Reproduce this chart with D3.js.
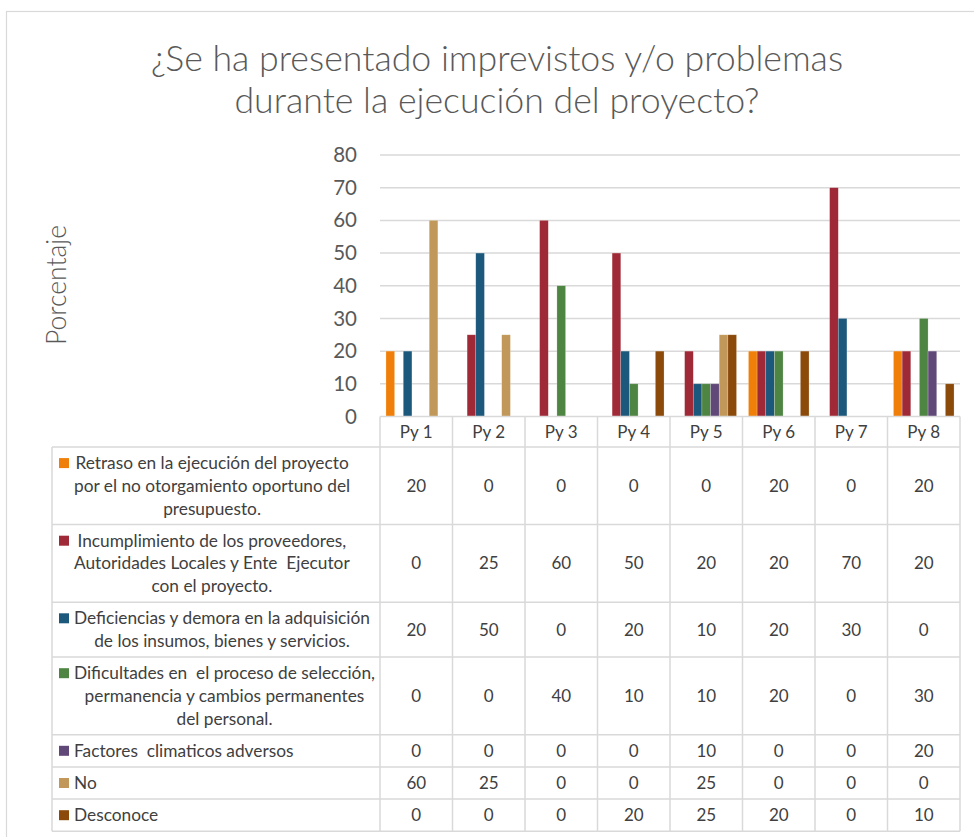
<!DOCTYPE html>
<html>
<head>
<meta charset="utf-8">
<title>Imprevistos y problemas</title>
<style>
body { margin: 0; background: #fff; }
text { font-family: Lato, "Open Sans", sans-serif; fill: #404040; }
.title { font-size: 35.7px; font-weight: 300; fill: #595959; }
.ylabel { font-size: 26.5px; font-weight: 300; fill: #595959; }
.yaxis text { font-size: 20.5px; fill: #595959; }
.grid line { stroke: #d9d9d9; stroke-width: 1.5; }
.tbl line { stroke: #d9d9d9; stroke-width: 1.5; }
.cell { font-size: 17px; }
.leg { font-size: 17.3px; white-space: pre; }
</style>
</head>
<body>
<div id="chart"></div>
<script src="https://cdn.jsdelivr.net/npm/d3@7"></script>
<script>
    var categories = ["Py 1", "Py 2", "Py 3", "Py 4", "Py 5", "Py 6", "Py 7", "Py 8"];
    var seriesNames = [
        ["Retraso en la ejecución del proyecto", "por el no otorgamiento oportuno del", "presupuesto."],
        ["Incumplimiento de los proveedores,", "Autoridades Locales y Ente  Ejecutor", "con el proyecto."],
        ["Deficiencias y demora en la adquisición", "de los insumos, bienes y servicios."],
        ["Dificultades en  el proceso de selección,", "permanencia y cambios permanentes", "del personal."],
        ["Factores  climaticos adversos"],
        ["No"],
        ["Desconoce"]
    ];
    var retraso        = [20, 0, 0, 0, 0, 20, 0, 20];
    var incumplimiento = [0, 25, 60, 50, 20, 20, 70, 20];
    var deficiencias   = [20, 50, 0, 20, 10, 20, 30, 0];
    var dificultades   = [0, 0, 40, 10, 10, 20, 0, 30];
    var factores       = [0, 0, 0, 0, 10, 0, 0, 20];
    var no             = [60, 25, 0, 0, 25, 0, 0, 0];
    var desconoce      = [0, 0, 0, 20, 25, 20, 0, 10];
    var colors = ["#f07f09", "#9f2936", "#1b587c", "#4e8542", "#604878", "#c19859", "#8b4a0a"];
    var yTicks = [0, 10, 20, 30, 40, 50, 60, 70, 80];

    var values = [retraso, incumplimiento, deficiencias, dificultades, factores, no, desconoce];

    var W = 974, H = 837;
    var plot = { left: 380, right: 960, top: 155, bottom: 416.5 };
    var tableLeft = 52, headerH = 30.5;

    var svg = d3.select("#chart").append("svg")
        .attr("width", W)
        .attr("height", H);

    // chart border
    svg.append("rect")
        .attr("x", 6.5).attr("y", 11.5)
        .attr("width", 1000).attr("height", 900)
        .attr("fill", "none")
        .attr("stroke", "#d9d9d9")
        .attr("stroke-width", 1.2);

    svg.append("text").attr("class", "title")
        .attr("x", 497).attr("y", 71)
        .attr("text-anchor", "middle")
        .text("¿Se ha presentado imprevistos y/o problemas");
    svg.append("text").attr("class", "title")
        .attr("x", 497).attr("y", 113)
        .attr("text-anchor", "middle")
        .text("durante la ejecución del proyecto?");

    svg.append("text").attr("class", "ylabel")
        .attr("transform", "translate(66,285) rotate(-90)")
        .attr("text-anchor", "middle")
        .text("Porcentaje");

    var x0 = d3.scaleBand()
        .domain(categories)
        .range([plot.left, plot.right])
        .padding(0);
    var x1 = d3.scaleBand()
        .domain(d3.range(values.length))
        .range([0, x0.bandwidth()])
        .paddingInner(0)
        .paddingOuter(0.69);
    var y = d3.scaleLinear()
        .domain([0, 80])
        .range([plot.bottom, plot.top]);

    // gridlines
    svg.append("g").attr("class", "grid")
        .selectAll("line")
        .data(yTicks.slice(1))
        .enter().append("line")
        .attr("x1", plot.left).attr("x2", plot.right)
        .attr("y1", function(d) { return y(d); })
        .attr("y2", function(d) { return y(d); });

    // y axis labels
    var yaxis = d3.axisLeft(y).tickValues(yTicks).tickSize(0).tickPadding(23);
    svg.append("g").attr("class", "yaxis")
        .attr("transform", "translate(" + plot.left + ",0)")
        .call(yaxis)
        .call(function(g) { g.select(".domain").remove(); });
    svg.selectAll(".yaxis").attr("font-family", null).attr("font-size", null);

    // bars
    var gbars = svg.append("g").attr("class", "bars");
    values.forEach(function(vals, s) {
        gbars.selectAll("rect.s" + s)
            .data(vals)
            .enter().append("rect")
            .attr("class", "s" + s)
            .attr("x", function(d, i) { return x0(categories[i]) + x1(s); })
            .attr("width", x1.bandwidth())
            .attr("y", function(d) { return y(d); })
            .attr("height", function(d) { return y(0) - y(d); })
            .attr("fill", colors[s])
            .attr("stroke", "#fff")
            .attr("stroke-opacity", 0.35)
            .attr("stroke-width", 0.6);
    });

    // data table
    var tbl = svg.append("g").attr("class", "tbl");
    var rowH = seriesNames.map(function(l) { return 9.5 + 22.7 * l.length; });
    var rowTop = [];
    var yy = plot.bottom + headerH;
    rowH.forEach(function(h) { rowTop.push(yy); yy += h; });
    var tableBottom = yy;

    // header row
    tbl.append("line")
        .attr("x1", plot.left).attr("x2", plot.right)
        .attr("y1", plot.bottom).attr("y2", plot.bottom);
    tbl.selectAll("text.hdr")
        .data(categories)
        .enter().append("text")
        .attr("class", "cell hdr")
        .attr("x", function(d) { return x0(d) + x0.bandwidth() / 2; })
        .attr("y", plot.bottom + headerH / 2)
        .attr("dy", "0.35em")
        .attr("text-anchor", "middle")
        .text(function(d) { return d; });

    // horizontal lines
    tbl.selectAll("line.h")
        .data(rowTop.concat([tableBottom]))
        .enter().append("line")
        .attr("x1", tableLeft).attr("x2", plot.right)
        .attr("y1", function(d) { return d; })
        .attr("y2", function(d) { return d; });
    // vertical lines
    tbl.append("line")
        .attr("x1", tableLeft).attr("x2", tableLeft)
        .attr("y1", rowTop[0]).attr("y2", tableBottom);
    tbl.selectAll("line.v")
        .data(categories.concat(["end"]))
        .enter().append("line")
        .attr("x1", function(d) { return d === "end" ? plot.right : x0(d); })
        .attr("x2", function(d) { return d === "end" ? plot.right : x0(d); })
        .attr("y1", plot.bottom).attr("y2", tableBottom);

    // legend cells
    seriesNames.forEach(function(lines, s) {
        var cy = rowTop[s] + rowH[s] / 2;
        var first = cy - (lines.length - 1) * 22.7 / 2;
        var g = tbl.append("g");
        var texts = g.selectAll("text")
            .data(lines)
            .enter().append("text")
            .attr("class", "leg")
            .attr("y", function(d, i) { return first + i * 22.7; })
            .attr("dy", "0.35em")
            .attr("text-anchor", "middle")
            .text(function(d) { return d; });
        var maxW = 0;
        texts.each(function() { maxW = Math.max(maxW, this.getComputedTextLength()); });
        texts.attr("x", 74 + maxW / 2);
        g.append("rect")
            .attr("x", 59).attr("y", first - 5)
            .attr("width", 10).attr("height", 10)
            .attr("fill", colors[s]);

        // values
        tbl.selectAll("text.v" + s)
            .data(values[s])
            .enter().append("text")
            .attr("class", "cell v" + s)
            .attr("x", function(d, i) { return x0(categories[i]) + x0.bandwidth() / 2; })
            .attr("y", cy)
            .attr("dy", "0.35em")
            .attr("text-anchor", "middle")
            .text(function(d) { return d; });
    });
</script>
</body>
</html>
